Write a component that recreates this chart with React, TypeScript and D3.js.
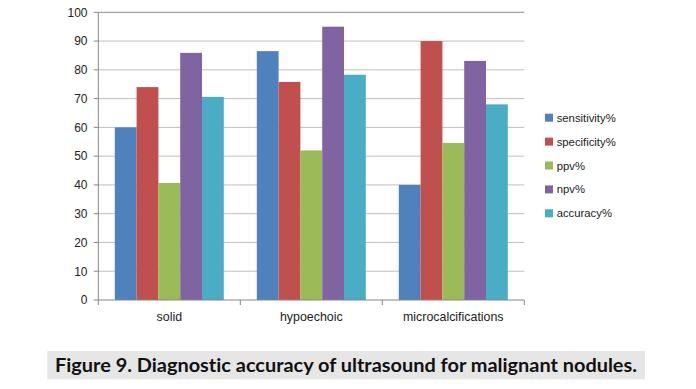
import React from "react";
import * as d3 from "d3";

const categories = ["solid", "hypoechoic", "microcalcifications"];
const seriesNames = ["sensitivity%", "specificity%", "ppv%", "npv%", "accuracy%"];
const sensitivity = [60, 86.5, 40];
const specificity = [74, 75.8, 90];
const ppv = [40.7, 52, 54.6];
const npv = [85.9, 95, 83.1];
const accuracy = [70.6, 78.3, 68];
const seriesValues = [sensitivity, specificity, ppv, npv, accuracy];
const colors = ["#4f81bd", "#c0504d", "#9bbb59", "#8064a2", "#4bacc6"];
const yTicks = [0, 10, 20, 30, 40, 50, 60, 70, 80, 90, 100];
const caption = "Figure 9. Diagnostic accuracy of ultrasound for malignant nodules.";

export default function App() {
  const W = 696, H = 389;
  const left = 98.3, right = 524.3, top = 12.3, bottom = 300;
  const x0 = d3.scaleBand<string>().domain(categories).range([left, right]).paddingInner(0).paddingOuter(0);
  const groupW = 109;
  const x1 = d3.scaleBand<string>().domain(seriesNames).range([0, groupW]);
  const y = d3.scaleLinear().domain([0, 100]).range([bottom, top]);
  const font = "'Liberation Sans', Arial, sans-serif";
  return (
    <div style={{ position: "absolute", left: 0, top: 0 }}>
      <svg width={W} height={H} style={{ display: "block", background: "#fff" }}>
        {yTicks.map((t) => (
          <g key={t}>
            {t > 0 && (
              <line x1={left} x2={right} y1={y(t)} y2={y(t)} stroke={t === 100 ? "#8c8c8c" : "#c0c0c0"} strokeWidth={1} />
            )}
            <line x1={left - 4.5} x2={left} y1={y(t)} y2={y(t)} stroke="#868686" />
            <text x={87.5} y={y(t) + 4.3} textAnchor="end" fontFamily={font} fontSize={12} fill="#222">
              {t}
            </text>
          </g>
        ))}
        {categories.map((c, ci) => {
          const gx = (x0(c) as number) + (x0.bandwidth() - groupW) / 2;
          return (
            <g key={c}>
              {seriesNames.map((s, si) => (
                <rect
                  key={s}
                  x={gx + (x1(s) as number)}
                  y={y(seriesValues[si][ci])}
                  width={x1.bandwidth()}
                  height={bottom - y(seriesValues[si][ci])}
                  fill={colors[si]}
                />
              ))}
              <text x={(x0(c) as number) + x0.bandwidth() / 2} y={321} textAnchor="middle" fontFamily={font} fontSize={12.4} fill="#222">
                {c}
              </text>
            </g>
          );
        })}
        <line x1={left} x2={left} y1={top} y2={bottom} stroke="#868686" />
        <line x1={left} x2={right} y1={bottom} y2={bottom} stroke="#868686" />
        {[...categories.map((c) => x0(c) as number), right].map((tx, i) => (
          <line key={i} x1={tx} x2={tx} y1={bottom} y2={bottom + 5} stroke="#868686" />
        ))}
        {seriesNames.map((s, i) => {
          const cy = 117.7 + i * 23.9;
          return (
            <g key={s}>
              <rect x={545} y={cy - 4} width={8} height={8} fill={colors[i]} />
              <text x={556.7} y={cy + 4} fontFamily={font} fontSize={11.3} fill="#222">
                {s}
              </text>
            </g>
          );
        })}
        <rect x={47.3} y={351} width={597.7} height={28.3} fill="#e6e6e6" />
        <text
          x={55}
          y={372.3}
          fontFamily="Lato, 'Open Sans', sans-serif"
          fontWeight="bold"
          fontSize={19}
          fill="#111"
          textLength={582}
          lengthAdjust="spacingAndGlyphs"
          style={{ fontVariantLigatures: "none" }}
        >
          {caption}
        </text>
      </svg>
    </div>
  );
}
